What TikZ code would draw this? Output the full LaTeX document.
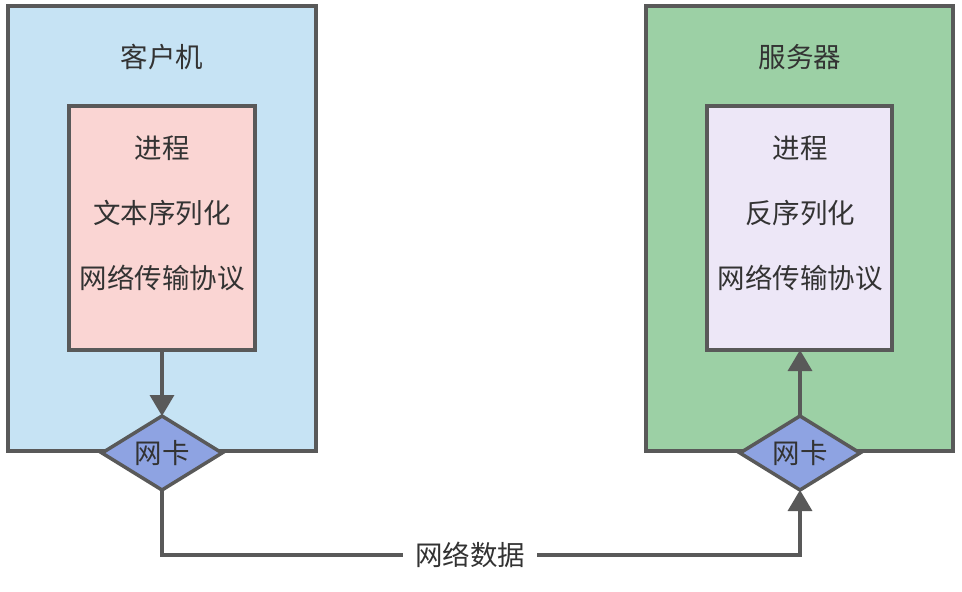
\documentclass[tikz,border=0pt]{standalone}
\usepackage{fontspec}
\setmainfont{Noto Sans CJK SC}
\usetikzlibrary{arrows.meta,shapes.geometric}
\definecolor{edgec}{HTML}{595959}
\definecolor{txtc}{HTML}{333333}
\definecolor{clientc}{HTML}{C6E3F4}
\definecolor{serverc}{HTML}{9CD0A5}
\definecolor{procl}{HTML}{FAD5D3}
\definecolor{procr}{HTML}{EDE7F7}
\definecolor{nicc}{HTML}{8EA3E2}
\tikzset{
  box/.style={draw=edgec, line width=3.5pt, inner sep=0pt, outer sep=0pt},
  lbl/.style={text=txtc, font=\fontsize{27.5}{30}\selectfont, inner sep=0pt},
  nic/.style={diamond, draw=edgec, line width=3.5pt, fill=nicc, minimum width=120pt, minimum height=74pt, aspect=1.6, inner sep=0pt, outer sep=0pt, text=txtc, font=\fontsize{27.5}{30}\selectfont},
  conn/.style={draw=edgec, line width=3.5pt, -{Triangle[width=24pt,length=21pt]}},
  plain/.style={draw=edgec, line width=3.5pt}
}
\begin{document}
\begin{tikzpicture}[x=1pt,y=-1pt]
\useasboundingbox (0,0) rectangle (962,592);
% outer boxes
\draw[box, fill=clientc] (8,6) rectangle (316,451);
\draw[box, fill=serverc] (646,6) rectangle (953,451);
% inner boxes
\node[box, fill=procl, minimum width=186pt, minimum height=244pt, anchor=north west] (pl) at (69,106) {};
\node[box, fill=procr, minimum width=185pt, minimum height=244pt, anchor=north west] (pr) at (707,106) {};
% titles
\node[lbl] (tc) at (162,57) {客户机};
\node[lbl] (ts) at (800,57) {服务器};
% inner texts
\node[lbl] (l1) at (162,148) {进程};
\node[lbl] (l2) at (162,213) {文本序列化};
\node[lbl] (l3) at (162,278) {网络传输协议};
\node[lbl] (r1) at (800,148) {进程};
\node[lbl] (r2) at (800,213) {反序列化};
\node[lbl] (r3) at (800,278) {网络传输协议};
% NICs
\node[nic] (nl) at (162,453) {网卡};
\node[nic] (nr) at (800,453) {网卡};
% label
\node[lbl, fill=white, inner xsep=12pt] (net) at (470,555) {网络数据};
% connectors
\draw[conn] (nl.north |- pl.south) -- (nl.north);
\draw[conn] (nr.north) -- (nr.north |- pr.south);
\draw[plain] (nl.south) |- (net.west);
\draw[conn] (net.east) -| (nr.south);
\end{tikzpicture}
\end{document}
